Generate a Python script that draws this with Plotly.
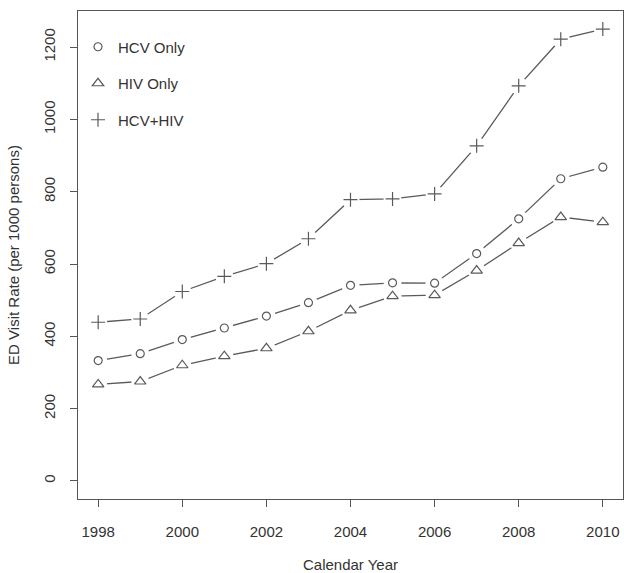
import plotly.graph_objects as go

years = list(range(1998, 2011))
hcv_only = [333, 352, 391, 423, 456, 493, 541, 548, 547, 629, 725, 836, 868]
hiv_only = [267, 275, 320, 345, 367, 414, 472, 511, 514, 582, 658, 730, 716]
hcv_hiv = [439, 448, 524, 566, 601, 670, 778, 780, 794, 927, 1093, 1222, 1250]

series = [
    ("HCV Only", hcv_only, "circle-open", 8),
    ("HIV Only", hiv_only, "triangle-up-open", 10),
    ("HCV+HIV", hcv_hiv, "cross-thin-open", 10),
]

x_ticks = [1998, 2000, 2002, 2004, 2006, 2008, 2010]
y_ticks = [0, 200, 400, 600, 800, 1000, 1200]

ink = "#5a5a5a"
text_col = "#333333"
font_family = "Liberation Sans, Arial, sans-serif"

fig = go.Figure()

# connecting lines, with white discs under each point so the line stops short of the symbol
for name, vals, sym, size in series:
    fig.add_trace(go.Scatter(
        x=years, y=vals, mode="lines+markers", showlegend=False, hoverinfo="skip",
        line=dict(color=ink, width=1.3),
        marker=dict(symbol="circle", size=18, color="white", line=dict(width=0)),
    ))

# point symbols
for i, (name, vals, sym, size) in enumerate(series):
    fig.add_trace(go.Scatter(
        x=years, y=vals, mode="markers", name=name, legendgroup=f"g{i}",
        marker=dict(symbol=sym, size=size, color=ink, line=dict(width=1.2, color=ink)),
    ))

axis_common = dict(
    showline=True, linecolor="#555555", linewidth=1.4, mirror=True,
    ticks="outside", ticklen=7, tickwidth=1.2, tickcolor="#555555",
    showgrid=False, zeroline=False,
    tickfont=dict(family=font_family, size=15, color=text_col),
    title_font=dict(family=font_family, size=15, color=text_col),
)

fig.update_layout(
    width=624, height=573,
    margin=dict(l=78, r=1, t=11, b=74),
    paper_bgcolor="white", plot_bgcolor="white",
    font=dict(family=font_family, size=15, color=text_col),
    showlegend=True,
    legend=dict(
        x=0.0, y=0.96, xanchor="left", yanchor="top",
        bgcolor="rgba(0,0,0,0)", borderwidth=0,
        traceorder="grouped", tracegroupgap=14,
        font=dict(family=font_family, size=15, color=text_col),
    ),
    xaxis=dict(
        range=[1997.52, 2010.48], tickvals=x_ticks,
        ticktext=[str(v) for v in x_ticks],
        ticklabelstandoff=12,
        title=dict(text="Calendar Year", standoff=22),
        **axis_common,
    ),
    yaxis=dict(
        range=[-50, 1300], tickvals=y_ticks,
        ticktext=[str(v) for v in y_ticks],
        tickangle=-90, ticklabelstandoff=9,
        title=dict(text="ED Visit Rate (per 1000 persons)", standoff=17),
        **axis_common,
    ),
)

fig.write_html("out.html")
